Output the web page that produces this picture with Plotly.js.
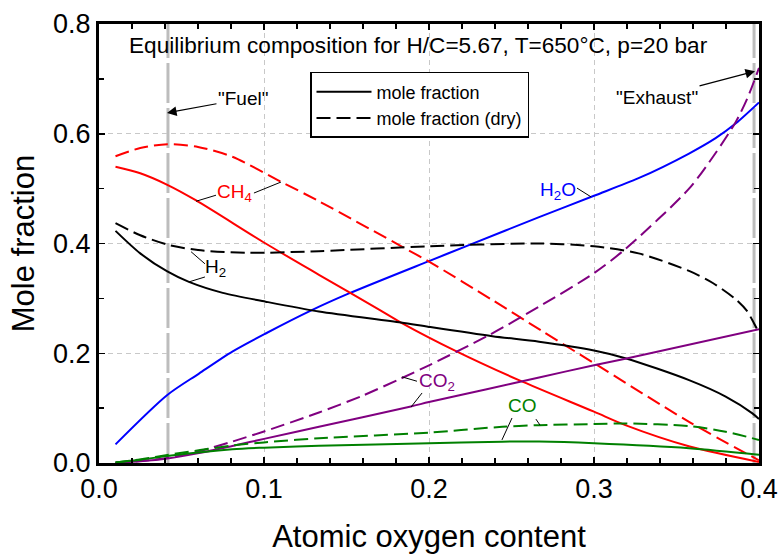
<!DOCTYPE html>
<html><head><meta charset="utf-8">
<script src="https://cdn.plot.ly/plotly-3.0.1.min.js"></script>
<style>body{margin:0;background:#fff}#chart{width:780px;height:554px}</style>
</head><body><div id="chart"></div>
<script>
// ---- data ----
const xH2O = [0.01,0.0414,0.0606,0.0808,0.101,0.1293,0.1515,0.2,0.2242,0.2667,0.3,0.327,0.3576,0.3737,0.386,0.4];
const yH2O = [0.034,0.124,0.163,0.203,0.236,0.279,0.309,0.368,0.397,0.448,0.487,0.519,0.564,0.592,0.619,0.657];

const xCH4 = [0.01,0.025,0.0414,0.0586,0.101,0.1333,0.17,0.183,0.217,0.2545,0.3,0.319,0.358,0.4];
const yCH4 = [0.54,0.528,0.507,0.479,0.40,0.343,0.279,0.256,0.203,0.151,0.0935,0.069,0.03,0.002];
const xCH4dry = [0.01,0.025,0.0414,0.06,0.0808,0.11,0.1333,0.1838,0.2,0.2384,0.2677,0.3,0.3576,0.4];
const yCH4dry = [0.559,0.574,0.581,0.576,0.558,0.513,0.477,0.394,0.367,0.297,0.242,0.182,0.075,0.005];

const xH2 = [0.01,0.025,0.0414,0.0545,0.075,0.101,0.1333,0.183,0.2,0.2384,0.2667,0.3,0.319,0.3576,0.3798,0.396,0.4];
const yH2 = [0.423,0.382,0.349,0.33,0.31,0.294,0.276,0.256,0.248,0.231,0.221,0.205,0.191,0.151,0.121,0.0905,0.08];
const xH2dry = [0.01,0.025,0.0414,0.06,0.09,0.1333,0.2,0.2667,0.3,0.327,0.3576,0.372,0.386,0.393,0.396,0.4];
const yH2dry = [0.437,0.415,0.398,0.388,0.383,0.386,0.395,0.400,0.395,0.382,0.35,0.328,0.298,0.276,0.26,0.237];

const xCO2 = [0.01,0.025,0.0414,0.0606,0.0808,0.1,0.1333,0.189,0.2,0.2343,0.2667,0.3,0.319,0.4];
const yCO2 = [0.0005,0.003,0.008,0.018,0.031,0.044,0.066,0.103,0.111,0.134,0.156,0.178,0.19,0.244];
const xCO2dry = [0.01,0.025,0.0414,0.0606,0.0808,0.1,0.1333,0.16,0.183,0.2,0.2364,0.2667,0.3,0.319,0.3576,0.3737,0.386,0.393,0.4];
const yCO2dry = [0.0005,0.0035,0.009,0.0215,0.039,0.0575,0.092,0.123,0.154,0.178,0.233,0.285,0.346,0.39,0.50,0.565,0.622,0.665,0.72];

const xCO = [0.01,0.025,0.0414,0.0808,0.1,0.1333,0.2,0.2444,0.2667,0.3,0.3576,0.4];
const yCO = [0.001,0.006,0.0128,0.025,0.028,0.0316,0.0358,0.0389,0.039,0.036,0.027,0.015];
const xCOdry = [0.01,0.025,0.0414,0.0808,0.1,0.1333,0.2,0.2444,0.2667,0.3,0.319,0.3576,0.3798,0.4];
const yCOdry = [0.001,0.0065,0.0146,0.0318,0.0375,0.045,0.0553,0.066,0.069,0.071,0.072,0.0674,0.057,0.042];

const speciesLabels = ['CH<sub>4</sub>','H<sub>2</sub>','H<sub>2</sub>O','CO<sub>2</sub>','CO'];
const labelX = [0.0824,0.0709,0.278,0.2048,0.2564];
const labelY = [0.492,0.355,0.496,0.1476,0.104];
const labelColors = ['#ff0000','#000000','#0000ff','#800080','#008000'];
// leader lines [x0,y0,x1,y1]
const leaders = [
  [0.0709,0.488,0.0588,0.477],[0.0939,0.492,0.1103,0.512],
  [0.0642,0.363,0.0558,0.385],[0.0642,0.339,0.0545,0.330],
  [0.2897,0.501,0.2982,0.485],
  [0.1927,0.149,0.1836,0.157],[0.1958,0.1276,0.1891,0.102],
  [0.2503,0.082,0.2442,0.042],[0.2648,0.080,0.2673,0.069]
];
const markerX = [0.0418,0.397]; // "Fuel" and "Exhaust" positions
const legendNames = ['mole fraction','mole fraction (dry)'];
const titleText = 'Equilibrium composition for H/C=5.67, T=650°C, p=20 bar';

// ---- build ----
const FONT = 'Liberation Sans, Arial, sans-serif';
const DASH = '14px,6px';
function tr(x,y,color,dry){
  return {x:x,y:y,type:'scatter',mode:'lines',showlegend:false,hoverinfo:'skip',
    line:{color:color,width:2,dash:dry?DASH:'solid',shape:'spline',smoothing:0.8}};
}
const data = [
  tr(xH2O,yH2O,'#0000ff',false),
  tr(xCH4,yCH4,'#ff0000',false), tr(xCH4dry,yCH4dry,'#ff0000',true),
  tr(xH2,yH2,'#000000',false), tr(xH2dry,yH2dry,'#000000',true),
  tr(xCO2,yCO2,'#800080',false), tr(xCO2dry,yCO2dry,'#800080',true),
  tr(xCO,yCO,'#008000',false), tr(xCOdry,yCOdry,'#008000',true),
  {x:[null],y:[null],type:'scatter',mode:'lines',name:legendNames[0],line:{color:'black',width:2}},
  {x:[null],y:[null],type:'scatter',mode:'lines',name:legendNames[1],line:{color:'black',width:2,dash:DASH}}
];

const shapes = [];
markerX.forEach(function(mx){
  shapes.push({type:'line',xref:'x',yref:'paper',x0:mx,x1:mx,y0:0,y1:1,layer:'below',
    line:{color:'#bdbdbd',width:3,dash:'40px,5px'}});
});
leaders.forEach(function(l){
  shapes.push({type:'line',xref:'x',yref:'y',x0:l[0],y0:l[1],x1:l[2],y1:l[3],line:{color:'black',width:1}});
});

const annotations = [
  {xref:'paper',yref:'paper',x:0.0424,y:0.952,xanchor:'left',yanchor:'middle',showarrow:false,
   text:titleText,font:{family:FONT,size:22.6,color:'black'}},
  {xref:'x',yref:'y',x:0.0412,y:0.638,ax:76,ay:-14,text:'"Fuel"',showarrow:true,arrowhead:2,arrowsize:1.6,arrowwidth:1.2,
   arrowcolor:'black',font:{family:FONT,size:19,color:'black'}},
  {xref:'x',yref:'y',x:0.3976,y:0.714,ax:-98,ay:26,text:'"Exhaust"',showarrow:true,arrowhead:2,arrowsize:1.6,arrowwidth:1.2,
   arrowcolor:'black',font:{family:FONT,size:19,color:'black'}}
];
speciesLabels.forEach(function(t,i){
  annotations.push({xref:'x',yref:'y',x:labelX[i],y:labelY[i],text:t,showarrow:false,
    font:{family:FONT,size:19,color:labelColors[i]}});
});

const axisCommon = {
  showline:true,linecolor:'black',linewidth:3,mirror:'allticks',
  ticks:'inside',ticklen:6,tickwidth:1.5,tickcolor:'black',
  showgrid:true,gridcolor:'#c8c8c8',gridwidth:1,griddash:'5px,4px',
  zeroline:false,tickformat:'.1f',
  tickfont:{family:FONT,size:27,color:'black'}
};
const layout = {
  width:780,height:554,
  margin:{l:99,r:21,t:24,b:91},
  paper_bgcolor:'white',plot_bgcolor:'white',
  font:{family:FONT,color:'black'},
  xaxis:Object.assign({},axisCommon,{range:[0,0.4],tick0:0,dtick:0.1,
    minor:{dtick:0.02,ticks:'inside',ticklen:5,tickwidth:1.5,tickcolor:'black',showgrid:false},
    title:{text:'Atomic oxygen content',font:{family:FONT,size:31,color:'black'},standoff:22}}),
  yaxis:Object.assign({},axisCommon,{range:[0,0.8],tick0:0,dtick:0.2,
    minor:{dtick:0.1,ticks:'inside',ticklen:5,tickwidth:1.5,tickcolor:'black',showgrid:false},
    title:{text:'Mole fraction',font:{family:FONT,size:31,color:'black'},standoff:10}}),
  showlegend:true,
  legend:{x:0.3197,y:0.8907,xanchor:'left',yanchor:'top',bgcolor:'white',bordercolor:'black',borderwidth:1.5,
    font:{family:FONT,size:18,color:'black'},itemwidth:55},
  shapes:shapes,
  annotations:annotations
};
Plotly.newPlot('chart',data,layout,{staticPlot:true});
</script>
</body></html>
